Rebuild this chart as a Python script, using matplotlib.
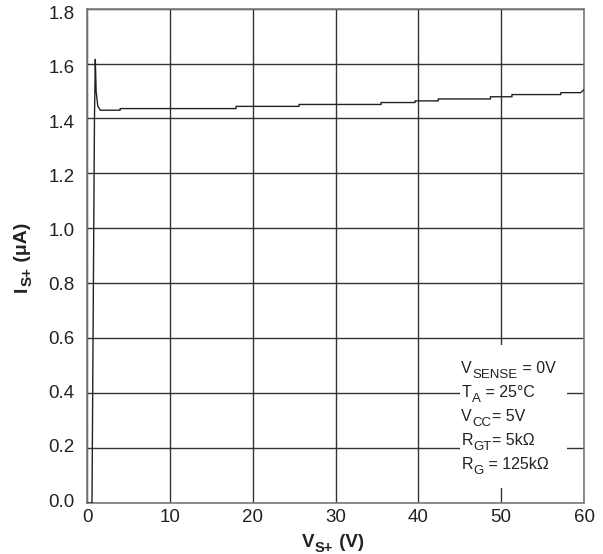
import numpy as np
import matplotlib
matplotlib.use('Agg')
import matplotlib.pyplot as plt
import matplotlib.transforms as mtransforms
from matplotlib.patches import Rectangle

plt.rcParams['font.family'] = ['Liberation Sans', 'DejaVu Sans']

# Curve: supply current vs. supply voltage
v_s = [0.0, 0.6, 0.9, 1.0, 1.1, 1.3, 1.6, 4.0, 4.0, 18.0, 18.0, 25.6, 25.6,
       35.5, 35.5, 39.6, 39.6, 42.4, 42.4, 48.7, 48.7, 51.3, 51.3, 57.2, 57.2,
       59.6, 60.0]
i_s = [0.0, 0.0, 1.40, 1.615, 1.50, 1.445, 1.430, 1.430, 1.436, 1.436, 1.444,
       1.444, 1.451, 1.451, 1.458, 1.458, 1.464, 1.464, 1.471, 1.471, 1.479,
       1.479, 1.487, 1.487, 1.494, 1.494, 1.505]

x_ticks = [0, 10, 20, 30, 40, 50, 60]
y_ticks = [0.0, 0.2, 0.4, 0.6, 0.8, 1.0, 1.2, 1.4, 1.6, 1.8]

# (main, subscript, rest)
x_label = ('V', 'S+', ' (V)')
y_label = ('I', 'S+', ' (\u03bcA)')
conditions = [('V', 'SENSE', ' = 0V'),
              ('T', 'A', ' = 25\u00b0C'),
              ('V', 'CC', '= 5V'),
              ('R', 'GT', '= 5k\u03a9'),
              ('R', 'G', ' = 125k\u03a9')]

fig = plt.figure(figsize=(6.03, 5.54), dpi=100)
ax = fig.add_axes([0.1443, 0.092, 0.8242, 0.8925])

ax.plot(v_s, i_s, color='#222222', lw=1.0, zorder=3)

ax.set_xlim(0, 60)
ax.set_ylim(0, 1.8)
ax.set_xticks(x_ticks)
ax.set_yticks(y_ticks)
ax.set_xticklabels([str(t) for t in x_ticks], fontsize=13.5)
ax.set_yticklabels([])
ax.tick_params(length=0, pad=4, colors='#222222')
ax.grid(True, color='#333333', lw=1.0)
ax.set_axisbelow(True)
for s in ax.spines.values():
    s.set_color('#7a7a7a')
    s.set_linewidth(1.2)

# y tick labels drift slightly downward going up, as in the original
for k, t in enumerate(y_ticks):
    off = mtransforms.ScaledTranslation(0, -(k * 0.8 - 1) / 100, fig.dpi_scale_trans)
    ax.text(-0.025, t, f'{t:.1f}', transform=ax.get_yaxis_transform() + off,
            ha='right', va='center', fontsize=13.5, color='#222222')


def sub_text(x, y, parts, transform, size, sub_size, drop, rotation=0, **kw):
    """Draw main text, a subscript and the rest, chained one after another."""
    main, sub, rest = parts
    first = ax.text(x, y, main, transform=transform, fontsize=size,
                    rotation=rotation, rotation_mode='anchor',
                    ha='left', va='baseline', clip_on=False, **kw)
    prev = first
    for txt, fs, d in [(sub, sub_size, drop), (rest, size, 0)]:
        if rotation == 0:
            a = ax.annotate(txt, xy=(1, y), xycoords=(prev, transform),
                            xytext=(0.3, -d), textcoords='offset points')
        else:
            a = ax.annotate(txt, xy=(x, 1), xycoords=(transform, prev),
                            xytext=(d, 0.3), textcoords='offset points')
        a.set(fontsize=fs, rotation=rotation, rotation_mode='anchor',
              ha='left', va='baseline', annotation_clip=False, **kw)
        prev = a


ftr = fig.transFigure
sub_text(302 / 603, 1 - 547 / 554, x_label, ftr, 13.5, 10.5, 3.6,
         fontweight='bold', color='#222222')
sub_text(27 / 603, 1 - 292 / 554, y_label, ftr, 14, 11, 3.6,
         rotation=90, fontweight='bold', color='#222222')

# white box behind the test conditions
ax.add_patch(Rectangle((45.0, 0.055), 12.9, 0.52, facecolor='white',
                       edgecolor='none', zorder=2))
for k, parts in enumerate(conditions):
    sub_text(45.2, 0.473 - k * 0.0875, parts, ax.transData, 11.5, 9.5, 3.6,
             color='#222222', zorder=4)

fig.savefig('out.png', dpi=100)
